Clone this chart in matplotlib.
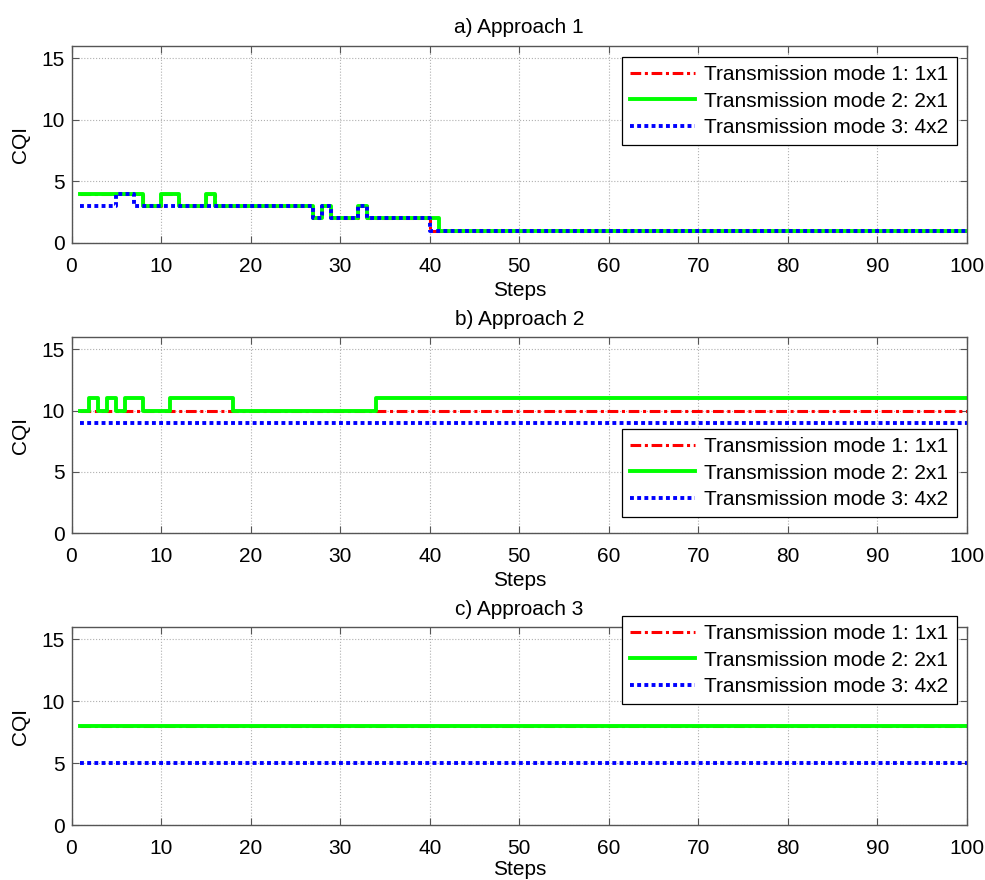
import matplotlib
matplotlib.use("Agg")
import matplotlib.pyplot as plt
import numpy as np

plt.rcParams['font.family'] = ['Liberation Sans', 'DejaVu Sans']

titles = ["a) Approach 1", "b) Approach 2", "c) Approach 3"]
labels = ["Transmission mode 1: 1x1", "Transmission mode 2: 2x1", "Transmission mode 3: 4x2"]

# Change points (step where a new value starts) and values, per series
a_mode1_x = [1, 8, 10, 12, 15, 16, 27, 28, 29, 32, 33, 40, 100]
a_mode1_y = [4, 3, 4, 3, 4, 3, 2, 3, 2, 3, 2, 1, 1]
a_mode2_x = [1, 8, 10, 12, 15, 16, 27, 28, 29, 32, 33, 41, 100]
a_mode2_y = [4, 3, 4, 3, 4, 3, 2, 3, 2, 3, 2, 1, 1]
a_mode3_x = [1, 5, 7, 27, 28, 29, 32, 33, 40, 100]
a_mode3_y = [3, 4, 3, 2, 3, 2, 3, 2, 1, 1]

b_mode1_x = [1, 100]
b_mode1_y = [10, 10]
b_mode2_x = [1, 2, 3, 4, 5, 6, 8, 11, 18, 34, 100]
b_mode2_y = [10, 11, 10, 11, 10, 11, 10, 11, 10, 11, 11]
b_mode3_x = [1, 100]
b_mode3_y = [9, 9]

c_mode1_x = [1, 100]
c_mode1_y = [8, 8]
c_mode2_x = [1, 100]
c_mode2_y = [8, 8]
c_mode3_x = [1, 100]
c_mode3_y = [5, 5]

panels = [
    [(a_mode1_x, a_mode1_y), (a_mode2_x, a_mode2_y), (a_mode3_x, a_mode3_y)],
    [(b_mode1_x, b_mode1_y), (b_mode2_x, b_mode2_y), (b_mode3_x, b_mode3_y)],
    [(c_mode1_x, c_mode1_y), (c_mode2_x, c_mode2_y), (c_mode3_x, c_mode3_y)],
]

W, H = 985, 880
FS = 15
fig = plt.figure(figsize=(W / 100, H / 100), dpi=100)
tops = [45.7, 337, 627]
bottoms = [243, 533, 825]
left, right = 71.5, 967
# legend box top-left corners (pixels from top-left of figure)
leg_corners = [(622, 57), (622, 429), (622, 616)]
xlabel_pads = [4, 4, 1.5]

styles = [
    dict(color='#ff0000', lw=2.2, dashes=(3.5, 1.2, 1, 1.2)),
    dict(color='#00ff00', lw=2.8, linestyle='-'),
    dict(color='#0000ff', lw=2.8, dashes=(1, 0.85)),
]

for i in range(3):
    ax = fig.add_axes([left / W, 1 - bottoms[i] / H, (right - left) / W, (bottoms[i] - tops[i]) / H])
    handles = []
    for (xs, ys), st, lab in zip(panels[i], styles, labels):
        h, = ax.step(xs, ys, where='post', label=lab, **st)
        handles.append(h)
    ax.set_xlim(0, 100)
    ax.set_ylim(0, 16)
    ax.set_xticks(np.arange(0, 101, 10))
    ax.set_yticks([0, 5, 10, 15])
    ax.grid(True, color='#b0b0b0', linestyle=':', linewidth=0.8)
    ax.tick_params(direction='in', top=True, right=True, labelsize=FS, length=5, color='#555555')
    ax.tick_params(axis='x', pad=10)
    ax.tick_params(axis='y', pad=5)
    for s in ax.spines.values():
        s.set_color('#555555')
        s.set_linewidth(1.0)
    ax.set_xlabel("Steps", fontsize=FS, labelpad=xlabel_pads[i])
    ax.set_ylabel("CQI", fontsize=FS, labelpad=8)
    ax.set_title(titles[i], fontsize=FS, pad=9)
    lx, ly = leg_corners[i]
    leg = ax.legend(handles=handles, loc='upper left', bbox_to_anchor=(lx / W, 1 - ly / H),
                    bbox_transform=fig.transFigure, borderaxespad=0,
                    fontsize=FS, fancybox=False, framealpha=1, edgecolor='black',
                    handlelength=3.1, labelspacing=0.35, borderpad=0.4, handletextpad=0.45)
    leg.get_frame().set_linewidth(0.9)
    leg.set_zorder(5)

fig.savefig("out.png", dpi=100)
